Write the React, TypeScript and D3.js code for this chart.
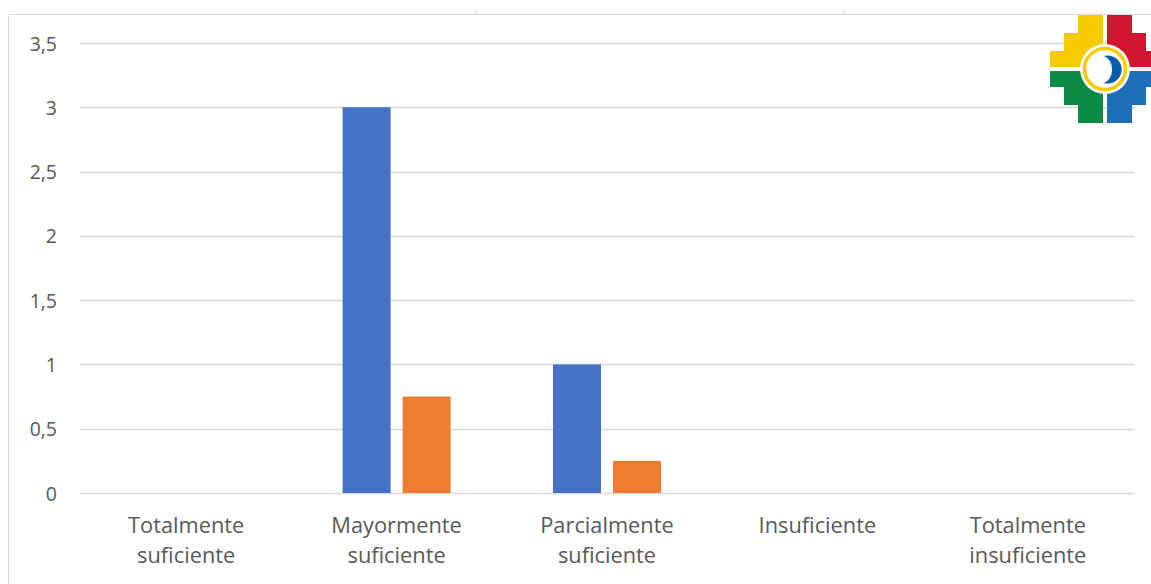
import React from "react";
import * as d3 from "d3";

// Response categories (x axis), split over two lines each
const categories = [
  "Totalmente suficiente",
  "Mayormente suficiente",
  "Parcialmente suficiente",
  "Insuficiente",
  "Totalmente insuficiente",
];
const categoryLines = [
  ["Totalmente", "suficiente"],
  ["Mayormente", "suficiente"],
  ["Parcialmente", "suficiente"],
  ["Insuficiente"],
  ["Totalmente", "insuficiente"],
];

// Two series per category
const seriesNames = ["Serie 1", "Serie 2"];
const serie1 = [0, 3, 1, 0, 0];
const serie2 = [0, 0.75, 0.25, 0, 0];
const seriesColors = ["#4472C4", "#ED7D31"];

// Value axis ticks
const yTicks = [0, 0.5, 1, 1.5, 2, 2.5, 3, 3.5];
const yTickLabels = ["0", "0,5", "1", "1,5", "2", "2,5", "3", "3,5"];

const W = 1151;
const H = 584;
const FONT = "'Open Sans', 'Noto Sans', sans-serif";

// Andean cross (chakana) emblem in the top-right corner
function Chakana({ cx, cy }: { cx: number; cy: number }) {
  const g = 2; // half gap between quadrants
  const steps = [
    [27, 54],
    [41, 36],
    [55, 18],
  ];
  // outline of one quadrant, mirrored through sx / sy
  const quad = (sx: number, sy: number) => {
    const pts: [number, number][] = [];
    pts.push([-g, -g]);
    pts.push([-g, -steps[0][1]]);
    pts.push([-steps[0][0], -steps[0][1]]);
    pts.push([-steps[0][0], -steps[1][1]]);
    pts.push([-steps[1][0], -steps[1][1]]);
    pts.push([-steps[1][0], -steps[2][1]]);
    pts.push([-steps[2][0], -steps[2][1]]);
    pts.push([-steps[2][0], -g]);
    return (
      "M" +
      pts.map(([x, y]) => `${cx + x * sx},${cy + y * sy}`).join("L") +
      "Z"
    );
  };
  return (
    <g>
      <path d={quad(1, 1)} fill="#F7CB00" />
      <path d={quad(-1, 1)} fill="#D2142F" />
      <path d={quad(1, -1)} fill="#0A8B45" />
      <path d={quad(-1, -1)} fill="#1E6FBA" />
      <circle cx={cx} cy={cy} r={25} fill="#ffffff" />
      <circle cx={cx} cy={cy} r={20.5} fill="none" stroke="#F7CB00" strokeWidth={3.5} />
      <path
        d={`M${cx - 1},${cy - 13} A14,14 0 1,1 ${cx - 1},${cy + 14} A11,14 0 0,0 ${cx - 1},${cy - 13} Z`}
        fill="#0A5CAB"
      />
    </g>
  );
}

export default function App() {
  const left = 82;
  const right = 1134;
  const y = d3.scaleLinear().domain([0, 3.5]).range([493, 43]);
  const x0 = d3.scaleBand<string>().domain(categories).range([left, right]).padding(0);
  const x1 = d3
    .scaleBand<string>()
    .domain(seriesNames)
    .range([0, 108])
    .paddingInner(0.2)
    .paddingOuter(0);
  const values = [serie1, serie2];

  return (
    <svg width={W} height={H} style={{ position: "absolute", left: 0, top: 0 }}>
      <rect x={0} y={0} width={W} height={H} fill="#ffffff" />
      {/* chart frame */}
      <line x1={8.5} y1={14} x2={8.5} y2={H} stroke="#d9d9d9" />
      <line x1={8} y1={14.5} x2={W} y2={14.5} stroke="#d9d9d9" />
      <line x1={476.5} y1={10} x2={476.5} y2={14} stroke="#d9d9d9" />
      <line x1={844.5} y1={10} x2={844.5} y2={14} stroke="#d9d9d9" />

      {/* gridlines and tick labels */}
      {yTicks.map((t, i) => (
        <g key={t}>
          <line
            x1={left - 2}
            x2={right + 1}
            y1={Math.round(y(t)) + 0.5}
            y2={Math.round(y(t)) + 0.5}
            stroke="#d9d9d9"
            strokeWidth={1.3}
          />
          <text
            x={57}
            y={y(t) + 7.5}
            textAnchor="end"
            fontFamily={FONT}
            fontSize={19.5}
            fill="#595959"
          >
            {yTickLabels[i]}
          </text>
        </g>
      ))}

      {/* bars */}
      {categories.map((c, ci) => {
        const start = (x0(c) as number) + x0.bandwidth() / 2 - 55;
        return (
          <g key={c}>
            {seriesNames.map((s, si) => {
              const v = values[si][ci];
              if (v <= 0) return null;
              return (
                <rect
                  key={s}
                  x={start + (x1(s) as number)}
                  y={y(v)}
                  width={x1.bandwidth()}
                  height={y(0) - y(v)}
                  fill={seriesColors[si]}
                />
              );
            })}
          </g>
        );
      })}

      {/* category labels */}
      {categories.map((c, ci) => {
        const cx = (x0(c) as number) + x0.bandwidth() / 2 - 1;
        return (
          <text
            key={c}
            textAnchor="middle"
            fontFamily={FONT}
            fontSize={21.8}
            fill="#595959"
          >
            {categoryLines[ci].map((line, li) => (
              <tspan key={li} x={cx} y={533 + li * 30}>
                {line}
              </tspan>
            ))}
          </text>
        );
      })}

      <Chakana cx={1105} cy={69} />
    </svg>
  );
}
